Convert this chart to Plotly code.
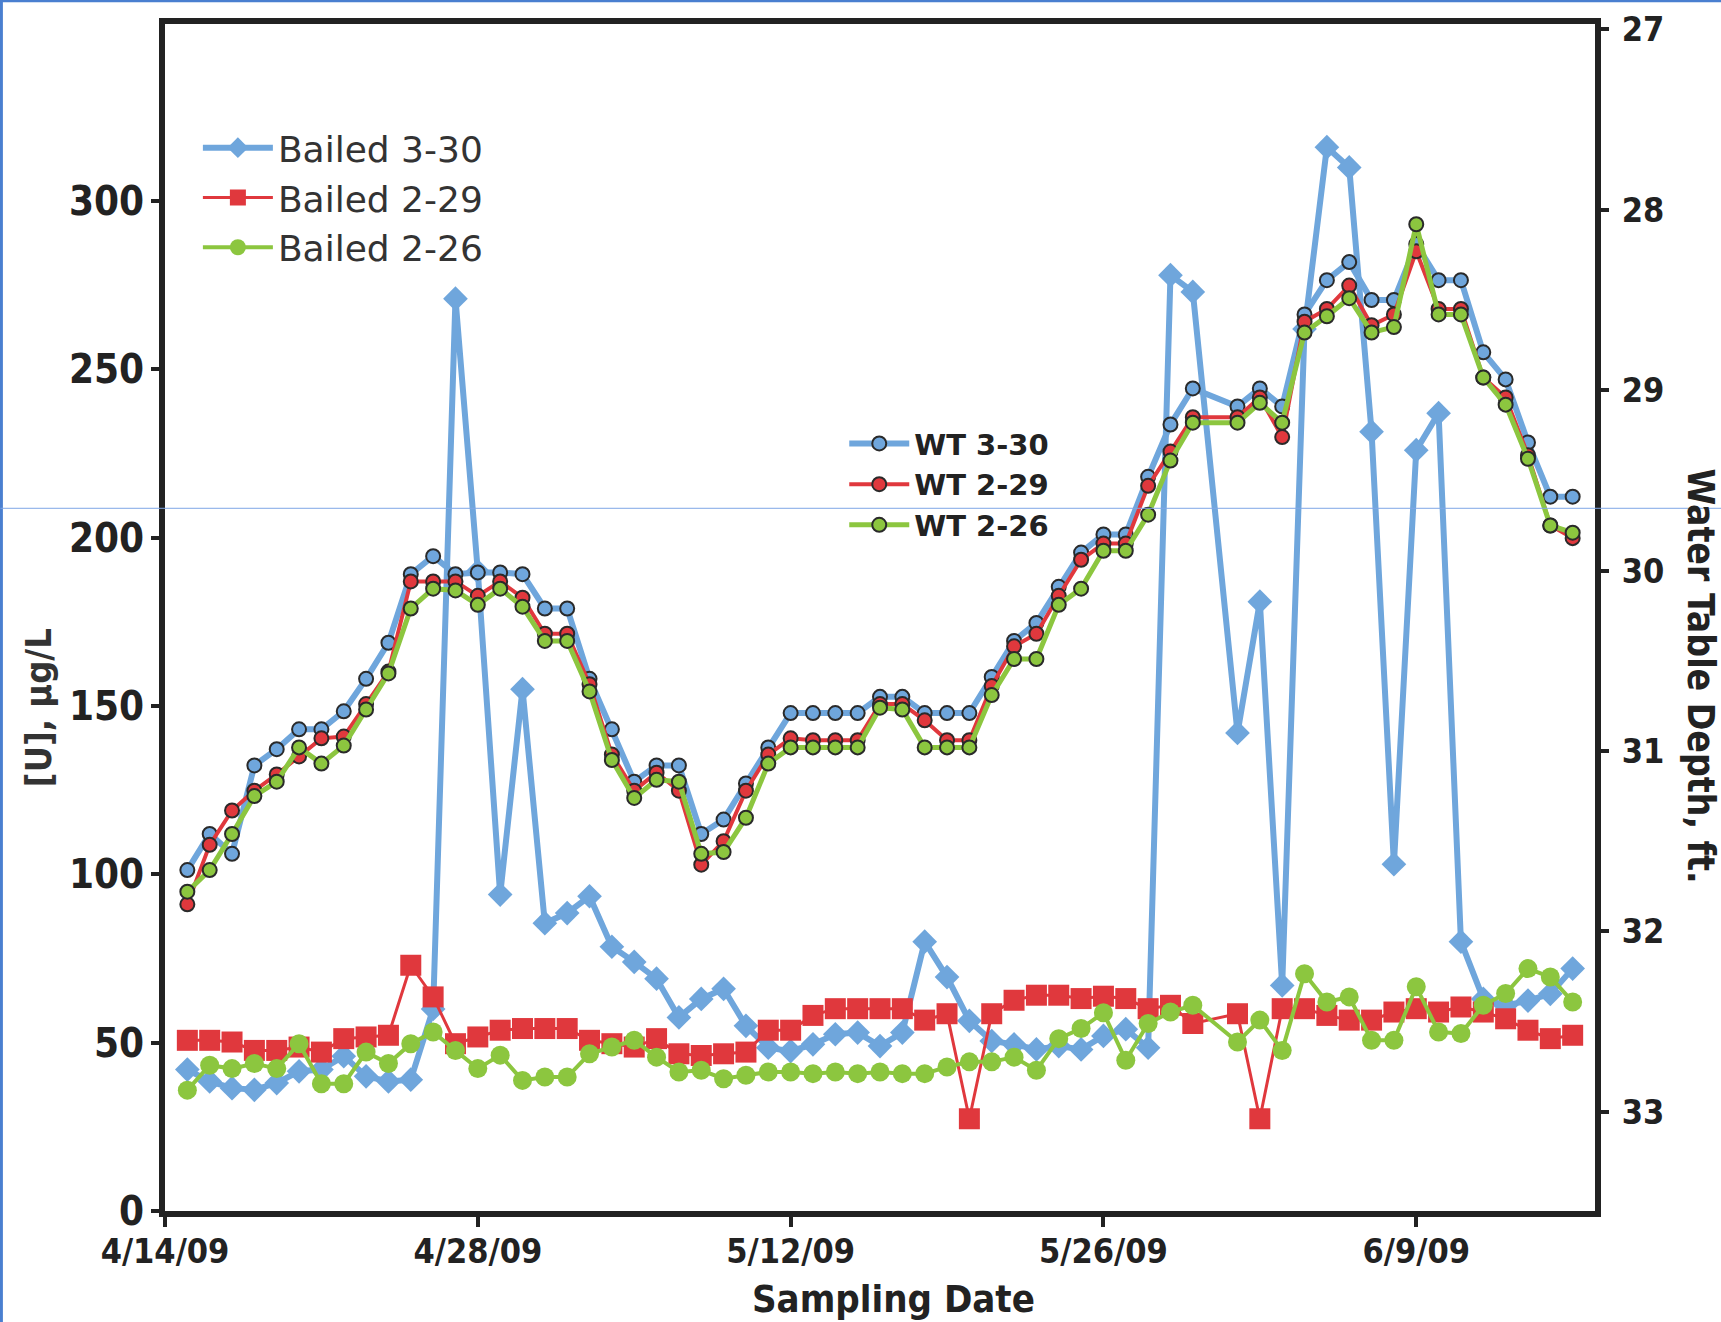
import plotly.graph_objects as go

# Sampling dates (no sample on 5/31/09)
sample_dates = [
    "2009-04-15", "2009-04-16", "2009-04-17", "2009-04-18", "2009-04-19",
    "2009-04-20", "2009-04-21", "2009-04-22", "2009-04-23", "2009-04-24",
    "2009-04-25", "2009-04-26", "2009-04-27", "2009-04-28", "2009-04-29",
    "2009-04-30", "2009-05-01", "2009-05-02", "2009-05-03", "2009-05-04",
    "2009-05-05", "2009-05-06", "2009-05-07", "2009-05-08", "2009-05-09",
    "2009-05-10", "2009-05-11", "2009-05-12", "2009-05-13", "2009-05-14",
    "2009-05-15", "2009-05-16", "2009-05-17", "2009-05-18", "2009-05-19",
    "2009-05-20", "2009-05-21", "2009-05-22", "2009-05-23", "2009-05-24",
    "2009-05-25", "2009-05-26", "2009-05-27", "2009-05-28", "2009-05-29",
    "2009-05-30", "2009-06-01", "2009-06-02", "2009-06-03", "2009-06-04",
    "2009-06-05", "2009-06-06", "2009-06-07", "2009-06-08", "2009-06-09",
    "2009-06-10", "2009-06-11", "2009-06-12", "2009-06-13", "2009-06-14",
    "2009-06-15", "2009-06-16",
]

# Bailed uranium concentration, ug/L
bailed_3_30 = [
    42, 38.5, 36.5, 36, 38, 41.5, 42, 46, 40, 38.5,
    39, 60, 271, 190, 94, 155, 85.5, 88.5, 93.5, 78.5,
    74, 69, 57.5, 63, 66, 55, 48.5, 47.5, 49.5, 52.5,
    53, 49, 53, 80, 69.5, 56.5, 50.5, 49.5, 48, 49,
    48, 52, 54, 48.5, 278, 273,
    142, 181, 67, 262, 316, 310, 231.5, 103, 226, 237,
    80, 63, 61, 62.5, 64.5, 72,
]
bailed_2_29 = [
    50.7, 50.7, 50.2, 47.7, 47.7, 48.7, 47.2, 51.2, 51.7, 52.2,
    73, 63.6, 49.7, 51.7, 53.7, 54.2, 54.2, 54.2, 50.7, 49.7,
    48.7, 51.2, 46.7, 46.2, 46.7, 47.2, 53.7, 53.7, 58.1, 60.1,
    60.1, 60.1, 60.1, 56.7, 58.6, 27.4, 58.6, 62.6, 64.1, 64.1,
    63.1, 63.8, 63.1, 60.1, 61.1, 55.7,
    58.6, 27.4, 60.1, 60.1, 58.1, 56.7, 56.7, 59.1, 60.1, 59.1,
    60.6, 59.1, 57.1, 53.7, 51.2, 52.2,
]
bailed_2_26 = [
    35.9, 43.3, 42.3, 43.8, 42.3, 49.7, 37.8, 37.8, 47.2, 43.8,
    49.7, 53.2, 47.7, 42.3, 46.3, 38.8, 39.8, 39.8, 46.7, 48.7,
    50.7, 45.7, 41.3, 41.8, 39.3, 40.3, 41.3, 41.3, 40.8, 41.3,
    40.8, 41.3, 40.8, 40.8, 42.8, 44.3, 44.3, 45.7, 41.8, 51.2,
    54.2, 58.9, 44.8, 55.7, 59.1, 61.1,
    50.2, 56.7, 47.7, 70.5, 62.1, 63.6, 50.7, 50.7, 66.6, 53.2,
    52.7, 61.1, 64.6, 72, 69.5, 62.1,
]

# Water table depth, ft
wt_3_30 = [
    31.66, 31.46, 31.57, 31.08, 30.99, 30.88, 30.88, 30.78, 30.60, 30.40,
    30.02, 29.92, 30.02, 30.01, 30.01, 30.02, 30.21, 30.21, 30.60, 30.88,
    31.17, 31.08, 31.08, 31.46, 31.38, 31.18, 30.98, 30.79, 30.79, 30.79,
    30.79, 30.70, 30.70, 30.79, 30.79, 30.79, 30.59, 30.39, 30.29, 30.09,
    29.90, 29.80, 29.80, 29.48, 29.19, 28.99,
    29.09, 28.99, 29.09, 28.58, 28.39, 28.29, 28.50, 28.50, 28.19, 28.39,
    28.39, 28.79, 28.94, 29.29, 29.59, 29.59,
]
wt_2_29 = [
    31.85, 31.52, 31.33, 31.22, 31.13, 31.03, 30.93, 30.92, 30.74, 30.56,
    30.06, 30.06, 30.06, 30.14, 30.06, 30.15, 30.35, 30.35, 30.63, 31.02,
    31.22, 31.12, 31.22, 31.63, 31.50, 31.22, 31.02, 30.93, 30.94, 30.94,
    30.94, 30.74, 30.74, 30.83, 30.94, 30.94, 30.64, 30.42, 30.35, 30.14,
    29.94, 29.85, 29.85, 29.53, 29.34, 29.15,
    29.15, 29.04, 29.26, 28.62, 28.55, 28.42, 28.64, 28.58, 28.23, 28.55,
    28.55, 28.93, 29.04, 29.36, 29.75, 29.82,
]
wt_2_26 = [
    31.78, 31.66, 31.46, 31.25, 31.17, 30.98, 31.07, 30.97, 30.77, 30.57,
    30.21, 30.10, 30.11, 30.19, 30.10, 30.20, 30.39, 30.39, 30.67, 31.05,
    31.26, 31.16, 31.17, 31.57, 31.56, 31.37, 31.07, 30.98, 30.98, 30.98,
    30.98, 30.76, 30.77, 30.98, 30.98, 30.98, 30.69, 30.49, 30.49, 30.19,
    30.10, 29.89, 29.89, 29.69, 29.39, 29.18,
    29.18, 29.07, 29.18, 28.68, 28.59, 28.49, 28.68, 28.65, 28.08, 28.58,
    28.58, 28.93, 29.08, 29.38, 29.75, 29.79,
]

date_ticks = ["2009-04-14", "2009-04-28", "2009-05-12", "2009-05-26", "2009-06-09"]
date_labels = ["4/14/09", "4/28/09", "5/12/09", "5/26/09", "6/9/09"]
conc_ticks = [0, 50, 100, 150, 200, 250, 300]
depth_ticks = [27, 28, 29, 30, 31, 32, 33]

BLUE = "#6fa6dc"
RED = "#e0383d"
GREEN = "#8cc63f"
INK = "#222222"
COND = "DejaVu Sans Condensed, Liberation Sans Narrow, DejaVu Sans, sans-serif"

fig = go.Figure()

# Bailed sample concentrations (left axis)
fig.add_trace(go.Scatter(
    x=sample_dates, y=bailed_3_30, name="Bailed 3-30", mode="lines+markers",
    line=dict(color=BLUE, width=6),
    marker=dict(symbol="diamond", size=19, color=BLUE),
    legend="legend",
))
fig.add_trace(go.Scatter(
    x=sample_dates, y=bailed_2_29, name="Bailed 2-29", mode="lines+markers",
    line=dict(color=RED, width=3),
    marker=dict(symbol="square", size=21, color=RED),
    legend="legend",
))
fig.add_trace(go.Scatter(
    x=sample_dates, y=bailed_2_26, name="Bailed 2-26", mode="lines+markers",
    line=dict(color=GREEN, width=4),
    marker=dict(symbol="circle", size=19, color=GREEN),
    legend="legend",
))

# Water table depth (right axis, reversed)
for name, vals, col, lw in [
    ("WT 3-30", wt_3_30, BLUE, 6),
    ("WT 2-29", wt_2_29, RED, 4),
    ("WT 2-26", wt_2_26, GREEN, 5),
]:
    fig.add_trace(go.Scatter(
        x=sample_dates, y=vals, name=name, mode="lines+markers", yaxis="y2",
        line=dict(color=col, width=lw),
        marker=dict(symbol="circle", size=14, color=col,
                    line=dict(color="#2a2a2a", width=2)),
        legend="legend2",
    ))

fig.update_layout(
    width=1721, height=1322,
    margin=dict(l=165, r=126, t=24, b=111, autoexpand=False),
    paper_bgcolor="white", plot_bgcolor="white",
    showlegend=True,
    xaxis=dict(
        type="date", range=["2009-04-14", "2009-06-17"],
        tickvals=date_ticks, ticktext=date_labels,
        showline=True, linewidth=6, linecolor=INK, mirror=True,
        ticks="outside", ticklen=10, tickwidth=4, tickcolor=INK,
        showgrid=False, zeroline=False,
        tickfont=dict(family=COND, size=34, color=INK, weight="bold"),
        ticklabelstandoff=-5,
    ),
    yaxis=dict(
        range=[0, 352.6], tickvals=conc_ticks,
        showline=True, linewidth=6, linecolor=INK,
        ticks="outside", ticklen=8, tickwidth=4, tickcolor=INK,
        showgrid=False, zeroline=False,
        tickfont=dict(family=COND, size=40, color=INK, weight="bold"),
        ticklabelstandoff=-1,
    ),
    yaxis2=dict(
        range=[33.55, 26.97], tickvals=depth_ticks,
        overlaying="y", side="right", anchor="x",
        showline=True, linewidth=6, linecolor=INK,
        ticks="outside", ticklen=8, tickwidth=4, tickcolor=INK,
        showgrid=False, zeroline=False,
        tickfont=dict(family=COND, size=34, color=INK, weight="bold"),
        ticklabelstandoff=6,
    ),
    legend=dict(
        x=0.023, y=0.921, xanchor="left", yanchor="top",
        bgcolor="rgba(0,0,0,0)", itemwidth=70,
        font=dict(family="DejaVu Sans, sans-serif", size=36, color="#333333"),
    ),
    legend2=dict(
        x=0.475, y=0.668, xanchor="left", yanchor="top",
        bgcolor="rgba(0,0,0,0)", itemwidth=60,
        font=dict(family="DejaVu Sans, sans-serif", size=29, color=INK,
                  weight="bold"),
    ),
    annotations=[
        dict(text="[U], µg/L", xref="paper", yref="paper", x=-0.0885, y=0.424,
             textangle=-90, showarrow=False, xanchor="center", yanchor="middle",
             font=dict(family=COND, size=36, color="#333333", weight="bold")),
        dict(text="Water Table Depth, ft.", xref="paper", yref="paper",
             x=1.0735, y=0.451, textangle=90, showarrow=False,
             xanchor="center", yanchor="middle",
             font=dict(family=COND, size=37, color=INK, weight="bold")),
        dict(text="Sampling Date", xref="paper", yref="paper", x=0.5096, y=-0.074,
             showarrow=False, xanchor="center", yanchor="middle",
             font=dict(family=COND, size=38, color=INK, weight="bold")),
    ],
    shapes=[
        # thin frame line on the top and left edges of the figure
        dict(type="line", xref="paper", yref="paper", x0=-0.1151, x1=1.0883,
             y0=1.0195, y1=1.0195, line=dict(color="#4a7fd0", width=3)),
        dict(type="line", xref="paper", yref="paper", x0=-0.1144, x1=-0.1144,
             y0=-0.0938, y1=1.0202, line=dict(color="#4a7fd0", width=3)),
        # thin guide line across the figure
        dict(type="line", xref="paper", yref="paper", x0=-0.1151, x1=1.0883,
             y0=0.592, y1=0.592, layer="above",
             line=dict(color="#7fa6e6", width=1)),
    ],
)

fig.write_html("out.html")
